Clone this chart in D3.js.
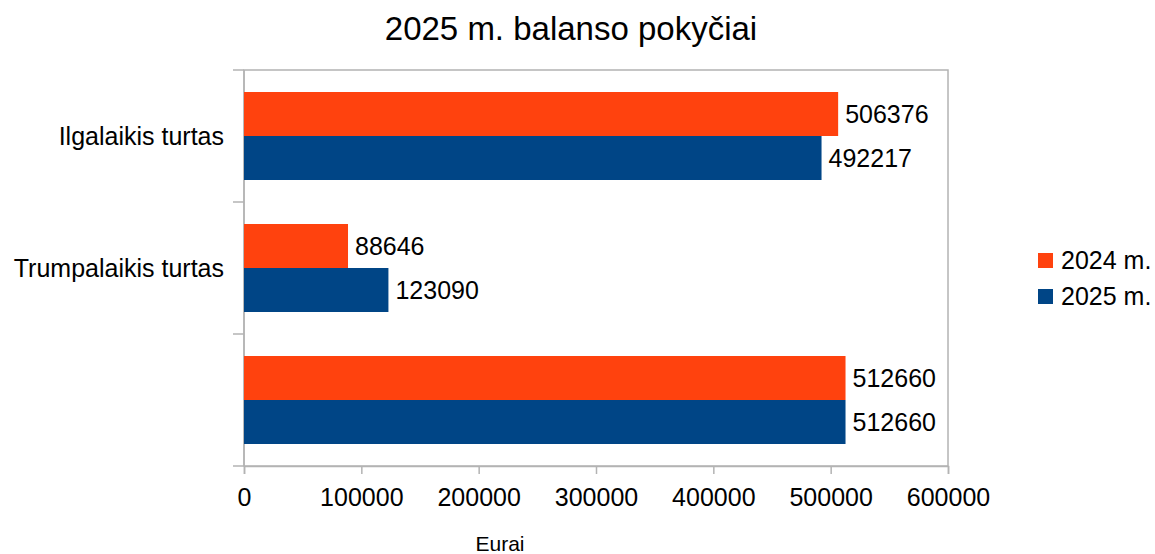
<html lang="lt">
<head>
  <meta charset="utf-8">
  <title>2025 m. balanso pokyčiai</title>
  <script src="https://d3js.org/d3.v7.min.js"></script>
  <style>
    body { margin: 0; background: #fff; }
    text { font-family: "Liberation Sans", Arial, sans-serif; }
  </style>
</head>
<body>
  <script>
    const categories = ["Ilgalaikis turtas", "Trumpalaikis turtas", ""];
    const seriesNames = ["2024 m.", "2025 m."];
    const values2024 = [506376, 88646, 512660];
    const values2025 = [492217, 123090, 512660];
    const xTicks = [0, 100000, 200000, 300000, 400000, 500000, 600000];
    const colors = ["#ff420e", "#004586"];

    const width = 1155;
    const height = 554;
    const plot = { left: 244, right: 948, top: 70, bottom: 466 };

    const svg = d3.select("body").append("svg").attr("width", width).attr("height", height);

    const x = d3.scaleLinear().domain([0, 600000]).range([plot.left, plot.right]);
    const y = d3.scaleBand().domain(d3.range(categories.length)).range([plot.top, plot.bottom]);
    const inner = d3.scaleBand().domain([0, 1]).range([0, y.bandwidth()]).paddingOuter(0.5).paddingInner(0);

    // plot frame
    svg.append("rect")
      .attr("x", plot.left).attr("y", plot.top)
      .attr("width", plot.right - plot.left).attr("height", plot.bottom - plot.top)
      .attr("fill", "none").attr("stroke", "#b3b3b3").attr("stroke-width", 1.5);

    // x axis
    const gX = svg.append("g").attr("transform", `translate(0,${plot.bottom})`)
      .call(d3.axisBottom(x).tickValues(xTicks).tickFormat(d3.format("d")).tickSize(8).tickPadding(14));
    gX.select(".domain").attr("stroke", "#b3b3b3").attr("stroke-width", 1.5);
    gX.selectAll(".tick line").attr("stroke", "#b3b3b3").attr("stroke-width", 1.5);
    gX.selectAll(".tick text").attr("font-size", 25).attr("fill", "#000")
      .style("font-family", "'Liberation Sans', Arial, sans-serif");

    // category axis
    const yTickPos = d3.range(categories.length + 1).map(i => plot.top + i * y.step());
    svg.append("g").selectAll("line").data(yTickPos).join("line")
      .attr("x1", plot.left - 11).attr("x2", plot.left)
      .attr("y1", d => d).attr("y2", d => d)
      .attr("stroke", "#b3b3b3").attr("stroke-width", 1.5);
    svg.append("line")
      .attr("x1", plot.left).attr("x2", plot.left)
      .attr("y1", plot.top).attr("y2", plot.bottom)
      .attr("stroke", "#b3b3b3").attr("stroke-width", 1.5);
    svg.append("g").selectAll("text").data(categories).join("text")
      .attr("x", plot.left - 20)
      .attr("y", (d, i) => y(i) + y.bandwidth() / 2)
      .attr("dy", "0.35em")
      .attr("text-anchor", "end")
      .attr("font-size", 25)
      .text(d => d);

    // bars
    const series = [values2024, values2025];
    series.forEach((vals, s) => {
      const g = svg.append("g");
      g.selectAll("rect").data(vals).join("rect")
        .attr("x", x(0))
        .attr("y", (d, i) => y(i) + inner(s))
        .attr("width", d => x(d) - x(0))
        .attr("height", inner.bandwidth())
        .attr("fill", colors[s]);
      g.selectAll("text").data(vals).join("text")
        .attr("x", d => x(d) + 7)
        .attr("y", (d, i) => y(i) + inner(s) + inner.bandwidth() / 2)
        .attr("dy", "0.35em")
        .attr("font-size", 25)
        .text(d => d);
    });

    // title
    svg.append("text")
      .attr("x", 571).attr("y", 40)
      .attr("text-anchor", "middle")
      .attr("font-size", 33)
      .text("2025 m. balanso pokyčiai");

    // x axis title
    svg.append("text")
      .attr("x", 500).attr("y", 551)
      .attr("text-anchor", "middle")
      .attr("font-size", 21)
      .text("Eurai");

    // legend
    const legend = svg.append("g").attr("transform", "translate(1038,253)");
    seriesNames.forEach((name, i) => {
      legend.append("rect").attr("x", 0).attr("y", i * 36).attr("width", 15).attr("height", 15).attr("fill", colors[i]);
      legend.append("text").attr("x", 23).attr("y", i * 36 + 7.5).attr("dy", "0.35em")
        .attr("font-size", 25).text(name);
    });
  </script>
</body>
</html>
